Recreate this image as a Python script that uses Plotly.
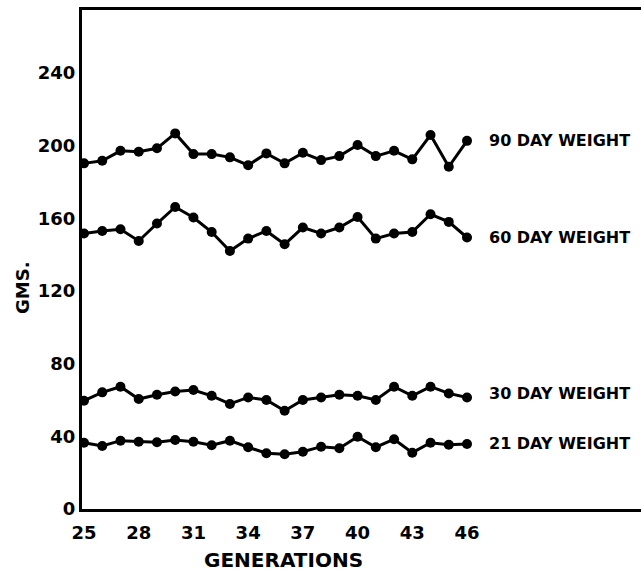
import plotly.graph_objects as go

generations = list(range(25, 47))
w90 = [190.2, 191.6, 197.1, 196.6, 198.5, 206.7, 195.3, 195.3, 193.5, 189.2, 195.7,
       190.2, 196.0, 192.0, 194.2, 200.3, 194.2, 197.1, 192.4, 205.8, 188.3, 202.6]
w60 = [151.6, 153.0, 153.9, 147.5, 157.1, 166.2, 160.4, 152.4, 142.0, 148.8, 153.0,
       145.7, 154.9, 151.6, 154.9, 160.7, 148.8, 151.6, 152.4, 162.2, 158.0, 149.4]
w30 = [59.6, 64.2, 67.3, 60.5, 62.9, 64.7, 65.5, 62.3, 57.8, 61.4, 60.0,
       54.1, 60.0, 61.4, 62.9, 62.3, 60.0, 67.3, 62.3, 67.3, 63.6, 61.4]
w21 = [36.5, 34.7, 37.6, 37.0, 36.7, 38.0, 37.0, 35.1, 37.6, 34.0, 30.7,
       30.1, 31.5, 34.3, 33.4, 39.8, 34.0, 38.4, 31.0, 36.5, 35.4, 35.8]
series = [("90 DAY WEIGHT", w90, 0), ("60 DAY WEIGHT", w60, 0),
          ("30 DAY WEIGHT", w30, 4), ("21 DAY WEIGHT", w21, 0)]
x_ticks = [25, 28, 31, 34, 37, 40, 43, 46]
y_ticks = [0, 40, 80, 120, 160, 200, 240]

FONT = "DejaVu Sans"
fig = go.Figure()
for name, vals, shift in series:
    fig.add_trace(go.Scatter(
        x=generations, y=vals, mode="lines+markers",
        line=dict(color="black", width=3),
        marker=dict(color="black", size=10),
        cliponaxis=False, showlegend=False, name=name))
    fig.add_annotation(x=47.09, y=vals[-1], xref="x", yref="y", text="<b>%s</b>" % name,
                       showarrow=False, xanchor="left", yanchor="middle", yshift=shift,
                       font=dict(family=FONT, size=16, color="black"))

fig.add_annotation(x=0.361, y=-0.102, xref="paper", yref="paper",
                   text="<b>GENERATIONS</b>", showarrow=False,
                   xanchor="center", yanchor="middle",
                   font=dict(family=FONT, size=20, color="black"))
fig.add_annotation(x=-0.1055, y=0.443, xref="paper", yref="paper",
                   text="<b>GMS.</b>", showarrow=False, textangle=-90,
                   xanchor="center", yanchor="middle",
                   font=dict(family=FONT, size=18, color="black"))

fig.update_layout(
    width=641, height=572,
    margin=dict(l=82, r=0, t=10, b=63, autoexpand=False),
    paper_bgcolor="white", plot_bgcolor="white",
    font=dict(family=FONT, color="black"),
)
fig.update_xaxes(range=[24.89, 55.54], tickvals=x_ticks,
                 ticktext=["<b>%d</b>" % v for v in x_ticks],
                 tickfont=dict(size=18), showgrid=False, zeroline=False,
                 showline=True, linecolor="black", linewidth=3, mirror=True,
                 ticks="", ticklabelstandoff=5, automargin=False)
fig.update_yaxes(range=[0, 274.6], tickvals=y_ticks,
                 ticktext=["<b>%d</b>" % v for v in y_ticks],
                 tickfont=dict(size=18), showgrid=False, zeroline=False,
                 showline=True, linecolor="black", linewidth=3, mirror=False,
                 ticks="", automargin=False)
fig.write_html("out.html",
               config={"displayModeBar": False},
               post_script="document.body.style.margin='0';"
                           "document.body.style.overflow='hidden';")
